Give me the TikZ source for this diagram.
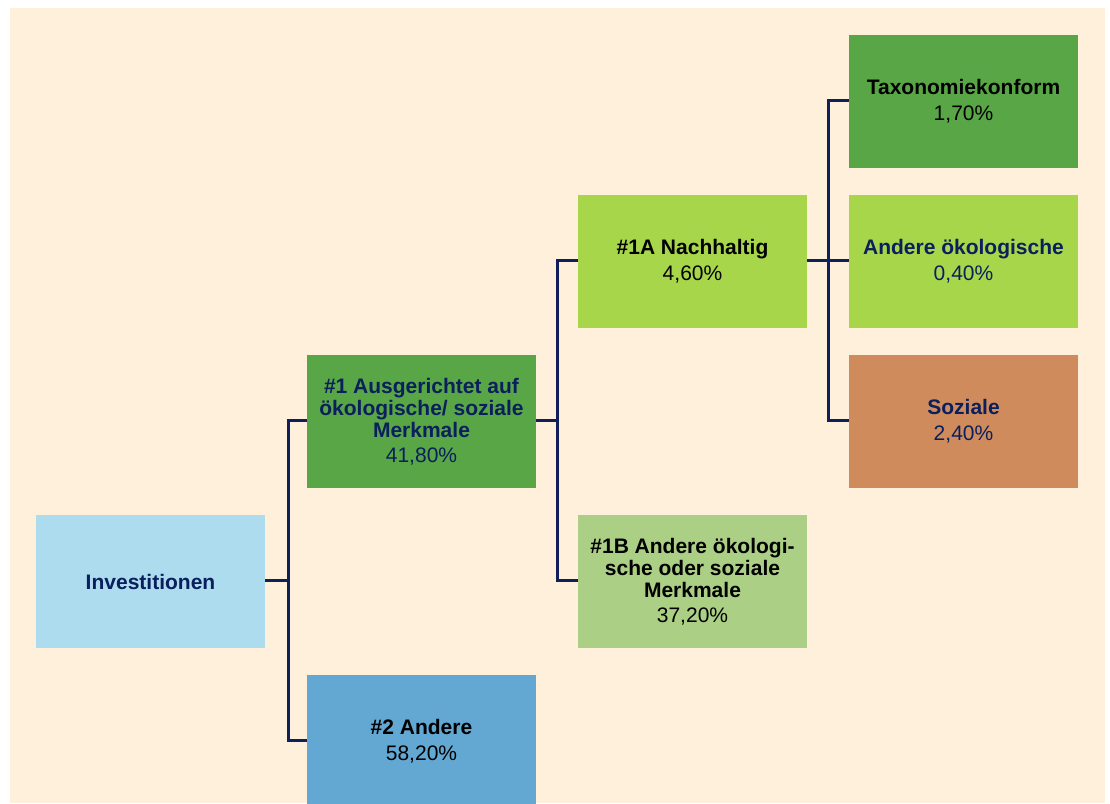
\documentclass[tikz,border=0pt]{standalone}
\usepackage{fontspec}
\setmainfont{Liberation Sans}
\definecolor{bgc}{HTML}{FEF0DB}
\definecolor{cinv}{HTML}{ADDCEE}
\definecolor{cgreen}{HTML}{58A646}
\definecolor{cblue}{HTML}{62A8D2}
\definecolor{clime}{HTML}{A8D64B}
\definecolor{cpale}{HTML}{ABCF84}
\definecolor{corange}{HTML}{D08B5C}
\definecolor{navy}{HTML}{0A1F5C}
\definecolor{lnavy}{HTML}{0F1F5A}
\tikzset{
  box/.style={rectangle, minimum width=229pt, minimum height=133pt, inner sep=0pt,
    align=center, font=\fontsize{21}{22}\selectfont, anchor=center},
  conn/.style={draw=lnavy, line width=3pt, line join=miter}
}
\begin{document}
\begin{tikzpicture}[x=1pt,y=-1pt]
\useasboundingbox (0,0) rectangle (1110,803);
\fill[white] (0,0) rectangle (1110,803);
\fill[bgc] (10,8) rectangle (1105,803);

\node[box, fill=cinv, text=navy] (inv) at (150.5,581.5) {\textbf{Investitionen}};
\node[box, fill=cgreen, text=navy] (a1) at (421.5,421.5) {\textbf{\#1 Ausgerichtet auf}\\\textbf{ökologische/ soziale}\\\textbf{Merkmale}\\[3pt]41,80\%};
\node[box, fill=cblue, text=black] (a2) at (421.5,741.5) {\textbf{\#2 Andere}\\[4pt]58,20\%};
\node[box, fill=clime, text=black] (b1) at (692.5,261.5) {\textbf{\#1A Nachhaltig}\\[4pt]4,60\%};
\node[box, fill=cpale, text=black] (b2) at (692.5,581.5) {\textbf{\#1B Andere ökologi-}\\\textbf{sche oder soziale}\\\textbf{Merkmale}\\[3pt]37,20\%};
\node[box, fill=cgreen, text=black] (c1) at (963.5,101.5) {\textbf{Taxonomiekonform}\\[4pt]1,70\%};
\node[box, fill=clime, text=navy] (c2) at (963.5,261.5) {\textbf{Andere ökologische}\\[4pt]0,40\%};
\node[box, fill=corange, text=navy] (c3) at (963.5,421.5) {\textbf{Soziale}\\[4pt]2,40\%};

\coordinate (j1) at (288,580);
\coordinate (j2) at (557,420);
\coordinate (j3) at (828,260);

\draw[conn] (inv.east |- j1) -- (j1);
\draw[conn] (a1.west |- 0,420) -| (j1) |- (a2.west |- 0,740);
\draw[conn] (a1.east |- j2) -- (j2);
\draw[conn] (b1.west |- 0,260) -| (j2) |- (b2.west |- 0,580);
\draw[conn] (b1.east |- j3) -- (j3);
\draw[conn] (c1.west |- 0,100) -| (j3) |- (c3.west |- 0,420);
\draw[conn] (j3) -- (c2.west |- j3);
\end{tikzpicture}
\end{document}
